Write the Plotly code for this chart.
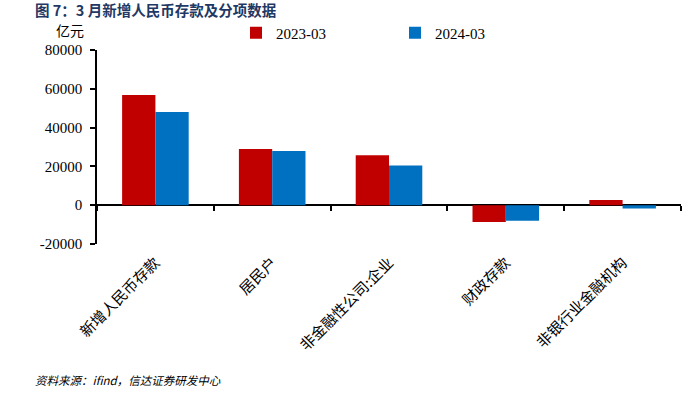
import plotly.graph_objects as go

categories = ["新增人民币存款", "居民户", "非金融性公司:企业", "财政存款", "非银行业金融机构"]
series_names = ["2023-03", "2024-03"]
values_2023 = [56800, 29000, 25800, -8700, 2700]
values_2024 = [48000, 28000, 20500, -8000, -1700]
y_tickvals = [-20000, 0, 20000, 40000, 60000, 80000]
y_ticktext = ["-20000", "0", "20000", "40000", "60000", "80000"]

colors = ["#C00000", "#0070C0"]
W, H = 690, 396
L, T = 97, 50
R = W - 681
B = H - 244
pw, ph = W - L - R, H - T - B

def px_x(x):
    return (x - L) / pw

def px_y(y):
    return (H - B - y) / ph

fig = go.Figure()
for name, vals, c in zip(series_names, [values_2023, values_2024], colors):
    fig.add_trace(go.Bar(x=categories, y=vals, name=name, marker=dict(color=c, line=dict(width=0)),
                         xaxis="x", yaxis="y"))

# invisible helper trace for the tick marks along the zero line
fig.add_trace(go.Scatter(x=categories, y=[0] * len(categories), xaxis="x2", yaxis="y",
                         mode="markers", marker=dict(opacity=0), showlegend=False, hoverinfo="skip"))

fig.update_layout(
    width=W, height=H,
    margin=dict(l=L, r=R, t=T, b=B, autoexpand=False),
    plot_bgcolor="white", paper_bgcolor="white",
    barmode="group", bargap=0.43, bargroupgap=0,
    xaxis=dict(type="category", categoryorder="array", categoryarray=categories, range=[-0.5, 4.5],
               showline=False, ticks="", showgrid=False, tickangle=-45, automargin=False,
               ticklabelstandoff=6,
               tickfont=dict(family="Noto Sans CJK SC", size=15, color="black")),
    xaxis2=dict(type="category", categoryorder="array", categoryarray=categories, range=[-0.5, 4.5],
                overlaying="x", anchor="free", position=0.2, side="bottom", automargin=False,
                showline=False, showgrid=False, showticklabels=False,
                ticks="outside", tickson="boundaries", ticklen=5, tickwidth=1.5, tickcolor="black"),
    yaxis=dict(range=[-20000, 80000], tickvals=y_tickvals, ticktext=y_ticktext, automargin=False,
               showline=True, linecolor="black", linewidth=1.5, ticklabelstandoff=5,
               ticks="outside", ticklen=5, tickwidth=1.5, tickcolor="black", showgrid=False,
               zeroline=True, zerolinecolor="black", zerolinewidth=2,
               tickfont=dict(family="Liberation Serif", size=15, color="black")),
    legend=dict(orientation="h", x=px_x(236), y=px_y(33), xanchor="left", yanchor="middle",
                entrywidth=114, entrywidthmode="pixels",
                font=dict(family="Liberation Serif", size=15, color="black"), bgcolor="rgba(0,0,0,0)"),
    showlegend=True,
    annotations=[
        dict(text="<b>图 7：3 月新增人民币存款及分项数据</b>", xref="paper", yref="paper",
             x=px_x(33), y=px_y(9), xanchor="left", yanchor="middle", showarrow=False,
             font=dict(family="Noto Sans CJK SC", size=14.5, color="#1F3864")),
        dict(text="亿元", xref="paper", yref="paper", x=px_x(54), y=px_y(30), xanchor="left", yanchor="middle",
             showarrow=False, font=dict(family="Noto Sans CJK SC", size=14, color="black")),
        dict(text="<i>资料来源：ifind，信达证券研发中心</i>", xref="paper", yref="paper", x=px_x(33), y=px_y(380),
             xanchor="left", yanchor="middle", showarrow=False,
             font=dict(family="Noto Sans CJK SC", size=11.5, color="black")),
    ],
)

fig.write_html("out.html", config={"displayModeBar": False},
               post_script="document.body.style.margin='0';")
